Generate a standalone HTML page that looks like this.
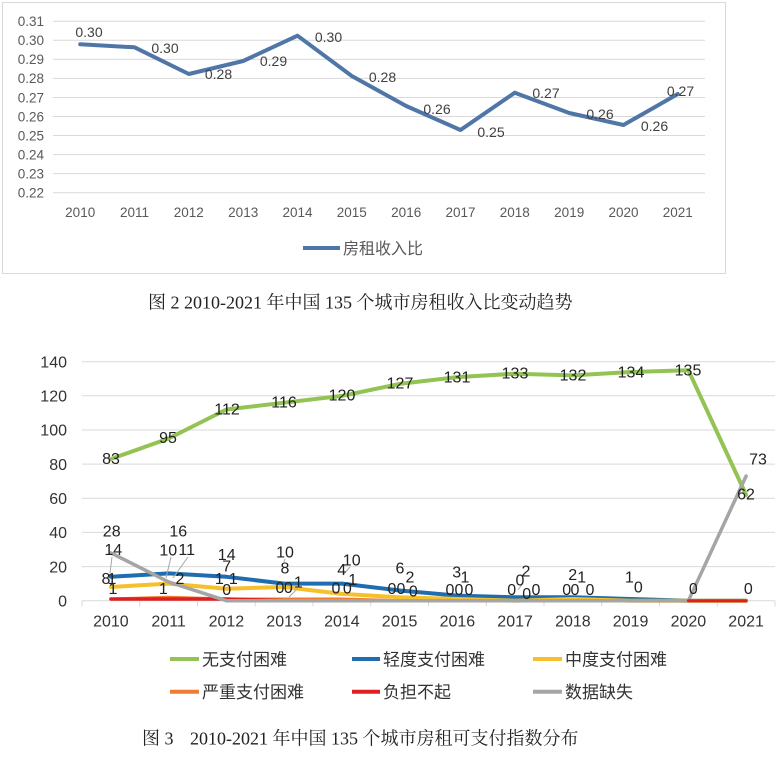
<!DOCTYPE html>
<html><head><meta charset="utf-8"><style>
html,body{margin:0;padding:0;background:#fff;}
svg{display:block;}
.ax{font-family:"Liberation Sans","Noto Sans CJK SC",sans-serif;}
</style></head><body>
<svg width="782" height="757" viewBox="0 0 782 757" xmlns="http://www.w3.org/2000/svg">
<rect width="782" height="757" fill="#fff"/>
<!-- ===== Chart 1 ===== -->
<rect x="2.5" y="2.5" width="723" height="271" fill="#fff" stroke="#d9d9d9" stroke-width="1"/>
<g stroke="#d9d9d9" stroke-width="1">
<line x1="53" x2="705" y1="21.3" y2="21.3"/><line x1="53" x2="705" y1="40.3" y2="40.3"/>
<line x1="53" x2="705" y1="59.4" y2="59.4"/><line x1="53" x2="705" y1="78.4" y2="78.4"/>
<line x1="53" x2="705" y1="97.5" y2="97.5"/><line x1="53" x2="705" y1="116.5" y2="116.5"/>
<line x1="53" x2="705" y1="135.5" y2="135.5"/><line x1="53" x2="705" y1="154.6" y2="154.6"/>
<line x1="53" x2="705" y1="173.6" y2="173.6"/><line x1="53" x2="705" y1="192.7" y2="192.7"/>
</g>
<g class="ax" font-size="13.5" fill="#595959" text-anchor="end">
<text x="44" y="26.1">0.31</text><text x="44" y="45.1">0.30</text><text x="44" y="64.2">0.29</text>
<text x="44" y="83.2">0.28</text><text x="44" y="102.3">0.27</text><text x="44" y="121.3">0.26</text>
<text x="44" y="140.3">0.25</text><text x="44" y="159.4">0.24</text><text x="44" y="178.4">0.23</text>
<text x="44" y="197.5">0.22</text>
</g>
<g class="ax" font-size="13.5" fill="#595959" text-anchor="middle">
<text x="80.2" y="216.8">2010</text><text x="134.5" y="216.8">2011</text><text x="188.8" y="216.8">2012</text>
<text x="243.2" y="216.8">2013</text><text x="297.5" y="216.8">2014</text><text x="351.8" y="216.8">2015</text>
<text x="406.2" y="216.8">2016</text><text x="460.5" y="216.8">2017</text><text x="514.8" y="216.8">2018</text>
<text x="569.2" y="216.8">2019</text><text x="623.5" y="216.8">2020</text><text x="677.8" y="216.8">2021</text>
</g>
<polyline fill="none" stroke="#4f76a7" stroke-width="4" stroke-linejoin="round" stroke-linecap="round"
points="80.2,44.3 134.5,47.3 188.8,74 243.2,61 297.5,35.7 351.8,76 406.2,106 460.5,130 514.8,92.7 569.2,113 623.5,125 677.8,94"/>
<g class="ax" font-size="14" fill="#404040" text-anchor="middle">
<text x="89" y="37">0.30</text><text x="165" y="53">0.30</text><text x="218.5" y="79">0.28</text>
<text x="273.5" y="66">0.29</text><text x="328.5" y="42">0.30</text><text x="382.5" y="82">0.28</text>
<text x="437" y="114">0.26</text><text x="491" y="137">0.25</text><text x="546" y="98">0.27</text>
<text x="600" y="119">0.26</text><text x="654.5" y="131">0.26</text><text x="680.5" y="96">0.27</text>
</g>
<line x1="303" x2="340" y1="248" y2="248" stroke="#4f76a7" stroke-width="4"/>
<text x="343" y="254" font-family="'Liberation Sans','Noto Sans CJK SC',sans-serif" font-size="16" fill="#595959">房租收入比</text>
<!-- Caption 1 -->
<text x="148" y="308.5" font-family="'Liberation Serif','Noto Serif CJK SC',serif" font-size="18" fill="#222">图 2 2010-2021 年中国 135 个城市房租收入比变动趋势</text>

<!-- ===== Chart 2 ===== -->
<g stroke="#d9d9d9" stroke-width="1">
<line x1="82" x2="775" y1="361.7" y2="361.7"/><line x1="82" x2="775" y1="395.8" y2="395.8"/>
<line x1="82" x2="775" y1="430" y2="430"/><line x1="82" x2="775" y1="464.1" y2="464.1"/>
<line x1="82" x2="775" y1="498.3" y2="498.3"/><line x1="82" x2="775" y1="532.4" y2="532.4"/>
<line x1="82" x2="775" y1="566.6" y2="566.6"/><line x1="82" x2="775" y1="600.7" y2="600.7"/>
<line x1="82" x2="82" y1="600.7" y2="606.5"/><line x1="139.75" x2="139.75" y1="600.7" y2="606.5"/>
<line x1="197.5" x2="197.5" y1="600.7" y2="606.5"/><line x1="255.25" x2="255.25" y1="600.7" y2="606.5"/>
<line x1="313" x2="313" y1="600.7" y2="606.5"/><line x1="370.75" x2="370.75" y1="600.7" y2="606.5"/>
<line x1="428.5" x2="428.5" y1="600.7" y2="606.5"/><line x1="486.25" x2="486.25" y1="600.7" y2="606.5"/>
<line x1="544" x2="544" y1="600.7" y2="606.5"/><line x1="601.75" x2="601.75" y1="600.7" y2="606.5"/>
<line x1="659.5" x2="659.5" y1="600.7" y2="606.5"/><line x1="717.25" x2="717.25" y1="600.7" y2="606.5"/>
<line x1="775" x2="775" y1="600.7" y2="606.5"/>
</g>
<g class="ax" font-size="16" fill="#333" text-anchor="end">
<text x="67" y="367.4">140</text><text x="67" y="401.5">120</text><text x="67" y="435.7">100</text>
<text x="67" y="469.8">80</text><text x="67" y="504">60</text><text x="67" y="538.1">40</text>
<text x="67" y="572.3">20</text><text x="67" y="606.4">0</text>
</g>
<g class="ax" font-size="16" fill="#333" text-anchor="middle">
<text x="110.9" y="626.4">2010</text><text x="168.6" y="626.4">2011</text><text x="226.4" y="626.4">2012</text>
<text x="284.1" y="626.4">2013</text><text x="341.9" y="626.4">2014</text><text x="399.6" y="626.4">2015</text>
<text x="457.4" y="626.4">2016</text><text x="515.1" y="626.4">2017</text><text x="572.9" y="626.4">2018</text>
<text x="630.6" y="626.4">2019</text><text x="688.4" y="626.4">2020</text><text x="746.1" y="626.4">2021</text>
</g>
<g fill="none" stroke-linejoin="round" stroke-linecap="round">
<!-- green -->
<polyline stroke="#92c353" stroke-width="4" points="110.9,459 168.6,438.5 226.4,409.5 284.1,402.7 341.9,395.9 399.6,383.9 457.4,377.1 515.1,373.7 572.9,375.4 630.6,372 688.4,370.3 746.1,494.9"/>
<!-- blue -->
<polyline stroke="#1f6cb0" stroke-width="4" points="110.9,576.8 168.6,573.4 226.4,576.8 284.1,583.6 341.9,583.6 399.6,590.5 457.4,595.6 515.1,597.3 572.9,597.3 630.6,599 688.4,600.7 746.1,600.7"/>
<!-- yellow -->
<polyline stroke="#f5c02c" stroke-width="4" points="110.9,587 168.6,583.6 226.4,588.7 284.1,587 341.9,593.9 399.6,597.3 457.4,599 515.1,600.7 572.9,599 630.6,600.7 688.4,600.7 746.1,600.7"/>
<!-- orange -->
<polyline stroke="#ed7d31" stroke-width="3" points="110.9,599 168.6,597.3 226.4,599 284.1,599 341.9,599 399.6,600.7 457.4,600.7 515.1,600.7 572.9,600.7 630.6,600.7 688.4,600.7 746.1,600.7"/>
<!-- red -->
<polyline stroke="#e02020" stroke-width="3.5" points="110.9,599 168.6,599 226.4,599 284.1,600.7 341.9,600.7 399.6,600.7 457.4,600.7 515.1,600.7 572.9,600.7 630.6,600.7"/>
<!-- gray -->
<polyline stroke="#a5a5a5" stroke-width="3.5" points="110.9,552.9 168.6,581.9 226.4,600.7 284.1,600.7 341.9,600.7 399.6,600.7 457.4,600.7 515.1,600.7 572.9,600.7 630.6,600.7 688.4,600.7 746.1,476.1"/>
<line x1="688.4" y1="600.7" x2="746.1" y2="600.7" stroke="#e02020" stroke-width="3"/>
</g>
<!-- leader lines -->
<g stroke="#a6a6a6" stroke-width="1" fill="none">
<line x1="112" y1="557" x2="110" y2="573"/>
<line x1="171" y1="557" x2="166" y2="578"/>
<line x1="188" y1="557" x2="173" y2="578"/>
<line x1="285" y1="559" x2="284" y2="562"/>
<line x1="297" y1="589" x2="289" y2="597"/>
<line x1="350" y1="567" x2="343" y2="575"/>
<line x1="518" y1="590" x2="523" y2="583"/>
</g>
<g class="ax" font-size="16" fill="#222" text-anchor="middle">
<text x="111" y="464">83</text><text x="168" y="443">95</text><text x="227" y="414.7">112</text>
<text x="284" y="407.4">116</text><text x="342" y="400.7">120</text><text x="400" y="388.4">127</text>
<text x="457" y="382.4">131</text><text x="515" y="378.7">133</text><text x="573" y="380.7">132</text>
<text x="631" y="377.4">134</text><text x="688" y="375.7">135</text><text x="746" y="499.7">62</text>
<text x="758" y="464.7">73</text>
<!-- 2010 -->
<text x="111.7" y="536.4">28</text><text x="113.3" y="555">14</text><text x="106" y="584">8</text>
<text x="112" y="584">1</text><text x="113" y="594">1</text>
<!-- 2011 -->
<text x="178.3" y="536.4">16</text><text x="168.3" y="555.7">10</text><text x="186.7" y="555">11</text>
<text x="180" y="584">2</text><text x="163.3" y="594">1</text>
<!-- 2012 -->
<text x="226.7" y="560">14</text><text x="226.7" y="571.7">7</text><text x="219.3" y="584">1</text>
<text x="233.3" y="584">1</text><text x="226.7" y="595">0</text>
<!-- 2013 -->
<text x="285" y="557.4">10</text><text x="285" y="573.4">8</text><text x="280" y="593">0</text>
<text x="288.3" y="593">0</text><text x="298.3" y="587.4">1</text>
<!-- 2014 -->
<text x="351.7" y="565.7">10</text><text x="341.7" y="575">4</text><text x="336" y="593.4">0</text>
<text x="347.3" y="593.4">0</text><text x="352.7" y="585">1</text>
<!-- 2015 -->
<text x="400" y="573.4">6</text><text x="410" y="582.4">2</text><text x="392" y="594">0</text>
<text x="401" y="594">0</text><text x="413.3" y="596.4">0</text>
<!-- 2016 -->
<text x="456.7" y="577.4">3</text><text x="465" y="582.4">1</text><text x="450" y="595">0</text>
<text x="459" y="595">0</text><text x="469" y="595">0</text>
<!-- 2017 -->
<text x="526" y="576.4">2</text><text x="520" y="585.7">0</text><text x="511.7" y="595">0</text>
<text x="526.7" y="599">0</text><text x="536" y="595">0</text>
<!-- 2018 -->
<text x="572.7" y="580">2</text><text x="581.7" y="582.4">1</text><text x="566.7" y="595">0</text>
<text x="575" y="595">0</text><text x="590" y="595">0</text>
<!-- 2019-2021 -->
<text x="629.3" y="582.4">1</text><text x="638.3" y="592.4">0</text>
<text x="693.3" y="594">0</text><text x="748.3" y="594">0</text>
</g>
<!-- Legend 2 -->
<g stroke-width="4">
<line x1="170" x2="199" y1="659" y2="659" stroke="#92c353"/>
<line x1="352" x2="380" y1="659" y2="659" stroke="#1f6cb0"/>
<line x1="533" x2="562" y1="659" y2="659" stroke="#f5c02c"/>
<line x1="170" x2="199" y1="691.7" y2="691.7" stroke="#ed7d31"/>
<line x1="352" x2="380" y1="691.7" y2="691.7" stroke="#e02020"/>
<line x1="533" x2="562" y1="691.7" y2="691.7" stroke="#a5a5a5"/>
</g>
<g font-family="'Liberation Sans','Noto Sans CJK SC',sans-serif" font-size="17" fill="#333">
<text x="202" y="665.5">无支付困难</text>
<text x="383" y="665.5">轻度支付困难</text>
<text x="565" y="665.5">中度支付困难</text>
<text x="202" y="698.2">严重支付困难</text>
<text x="383" y="698.2">负担不起</text>
<text x="565" y="698.2">数据缺失</text>
</g>
<!-- Caption 3 -->
<g font-family="'Liberation Serif','Noto Serif CJK SC',serif" font-size="18" fill="#222">
<text x="142" y="744.5">图 3</text>
<text x="190" y="744.5">2010-2021 年中国 135 个城市房租可支付指数分布</text>
</g>
</svg>
</body></html>
